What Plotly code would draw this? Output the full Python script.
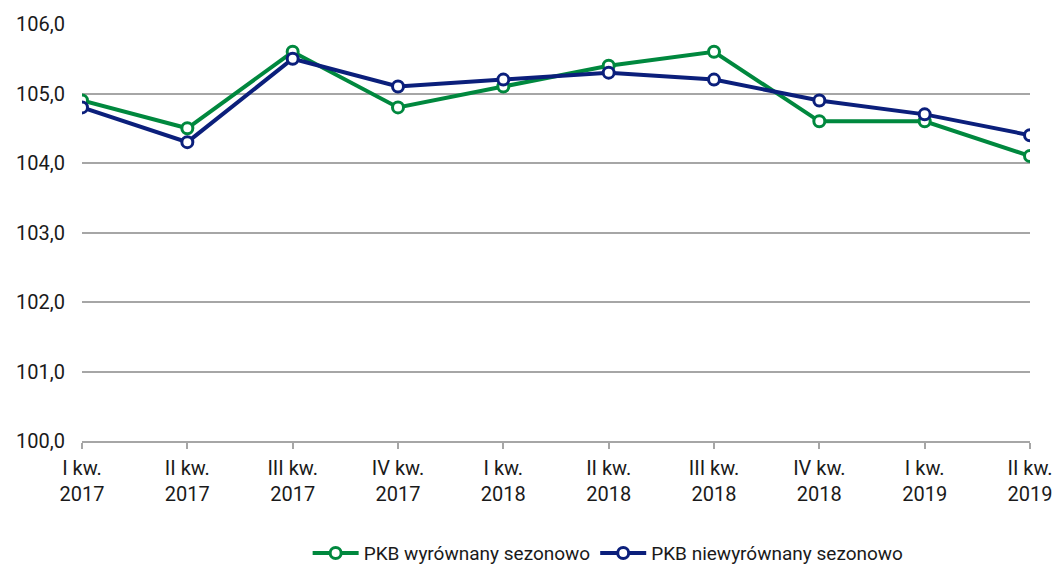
import plotly.graph_objects as go

categories = ["I kw.<br>2017", "II kw.<br>2017", "III kw.<br>2017", "IV kw.<br>2017",
              "I kw.<br>2018", "II kw.<br>2018", "III kw.<br>2018", "IV kw.<br>2018",
              "I kw.<br>2019", "II kw.<br>2019"]
pkb_sa = [104.9, 104.5, 105.6, 104.8, 105.1, 105.4, 105.6, 104.6, 104.6, 104.1]
pkb_nsa = [104.8, 104.3, 105.5, 105.1, 105.2, 105.3, 105.2, 104.9, 104.7, 104.4]
series_names = ["PKB wyrównany sezonowo", "PKB niewyrównany sezonowo"]
colors = ["#00883E", "#0B1F7B"]

fig = go.Figure()
for name, vals, col in zip(series_names, [pkb_sa, pkb_nsa], colors):
    fig.add_trace(go.Scatter(
        x=categories, y=vals, name=name, mode="lines+markers",
        line=dict(color=col, width=4),
        marker=dict(size=11, color="white", line=dict(color=col, width=3)),
    ))

fig.update_layout(
    width=1056, height=565,
    margin=dict(l=82, r=26, t=24, b=124, autoexpand=False),
    plot_bgcolor="white", paper_bgcolor="white",
    separators=", ",
    font=dict(family="Roboto, Open Sans, sans-serif", size=20, color="#1a1a1a"),
    showlegend=True,
    legend=dict(orientation="h", x=0.555, xanchor="center",
                yref="container", y=0.021, yanchor="middle",
                font=dict(size=19), itemwidth=46, tracegroupgap=0),
)
fig.update_xaxes(
    type="category", range=[0, len(categories) - 1],
    showgrid=False, showline=True, linecolor="#A6A6A6", linewidth=1.5,
    ticks="outside", ticklen=6, tickcolor="#A6A6A6", tickwidth=1.5,
    tickangle=0, ticklabelstandoff=2,
)
fig.update_yaxes(
    range=[100, 106], dtick=1, tickformat=".1f",
    showgrid=True, gridcolor="#A6A6A6", gridwidth=1.5,
    showline=False, zeroline=False, ticks="", ticklabelstandoff=16,
)
fig.write_html("out.html", post_script="document.body.style.margin='0';",
               config={"displayModeBar": False})
